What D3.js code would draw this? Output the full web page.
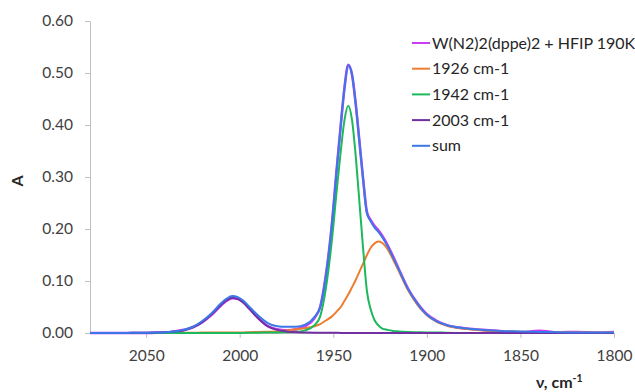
<!DOCTYPE html>
<html>
<head>
<meta charset="utf-8">
<script src="https://cdn.jsdelivr.net/npm/d3@7"></script>
<style>
  html, body { margin: 0; padding: 0; background: #ffffff; }
  svg { display: block; }
  text { font-family: Lato, "Open Sans", sans-serif; }
</style>
</head>
<body>
<svg id="chart" width="635" height="392"></svg>
<script>
// ---- data ----
const wavenumbers = [2080, 2070, 2060, 2050, 2045, 2040, 2035, 2030, 2025, 2020, 2015, 2010, 2007, 2004, 2001, 1998, 1995, 1990, 1985, 1980, 1975, 1970, 1965, 1960, 1957, 1954, 1951, 1948, 1946, 1944, 1942, 1940, 1938, 1936, 1934, 1932, 1930, 1928, 1926, 1924, 1921, 1918, 1915, 1910, 1905, 1900, 1895, 1890, 1880, 1870, 1860, 1850, 1845, 1840, 1835, 1830, 1825, 1820, 1810, 1800];

const measured = [0.000, 0.000, 0.000, 0.000, 0.0005, 0.001, 0.003, 0.006, 0.011, 0.021, 0.035, 0.053, 0.062, 0.067, 0.066, 0.059, 0.048, 0.028, 0.013, 0.007, 0.005, 0.007, 0.013, 0.029, 0.050, 0.110, 0.200, 0.322, 0.400, 0.472, 0.516, 0.497, 0.440, 0.367, 0.294, 0.232, 0.217, 0.206, 0.198, 0.188, 0.169, 0.147, 0.123, 0.085, 0.057, 0.036, 0.024, 0.016, 0.009, 0.006, 0.003, 0.001, 0.003, 0.004, 0.003, 0.0005, 0.002, 0.002, 0.001, 0.002];

const band1926 = [0.000, 0.000, 0.000, 0.000, 0.000, 0.000, 0.000, 0.0005, 0.0005, 0.0008, 0.0008, 0.001, 0.001, 0.001, 0.001, 0.0012, 0.0015, 0.002, 0.0025, 0.003, 0.005, 0.007, 0.009, 0.013, 0.017, 0.024, 0.031, 0.042, 0.050, 0.062, 0.074, 0.088, 0.102, 0.118, 0.134, 0.150, 0.164, 0.172, 0.176, 0.1735, 0.161, 0.141, 0.119, 0.082, 0.054, 0.034, 0.022, 0.015, 0.008, 0.005, 0.0035, 0.0025, 0.002, 0.002, 0.0015, 0.0015, 0.001, 0.001, 0.001, 0.001];

const band1942 = [0.000, 0.000, 0.000, 0.000, 0.000, 0.000, 0.000, 0.000, 0.000, 0.000, 0.000, 0.000, 0.000, 0.000, 0.000, 0.000, 0.0005, 0.0005, 0.001, 0.001, 0.0015, 0.002, 0.005, 0.015, 0.032, 0.085, 0.170, 0.280, 0.350, 0.410, 0.437, 0.410, 0.340, 0.250, 0.160, 0.080, 0.045, 0.025, 0.015, 0.009, 0.006, 0.004, 0.003, 0.002, 0.0015, 0.001, 0.001, 0.0005, 0.000, 0.000, 0.000, 0.000, 0.000, 0.000, 0.000, 0.000, 0.000, 0.000, 0.000, 0.000];

const band2003 = [0.000, 0.000, 0.0002, 0.0005, 0.0008, 0.0015, 0.003, 0.005, 0.011, 0.021, 0.036, 0.054, 0.063, 0.068, 0.065, 0.058, 0.047, 0.028, 0.013, 0.006, 0.003, 0.0015, 0.001, 0.0006, 0.0005, 0.0004, 0.0004, 0.0003, 0.0002, 0.0002, 0.0002, 0.0001, 0.0001, 0.000, 0.000, 0.000, 0.000, 0.000, 0.000, 0.000, 0.000, 0.000, 0.000, 0.000, 0.000, 0.000, 0.000, 0.000, 0.000, 0.000, 0.000, 0.000, 0.000, 0.000, 0.000, 0.000, 0.000, 0.000, 0.000, 0.000];

const sumFit = [0.000, 0.000, 0.0002, 0.0005, 0.0008, 0.0015, 0.003, 0.006, 0.012, 0.023, 0.038, 0.057, 0.066, 0.071, 0.069, 0.062, 0.051, 0.033, 0.019, 0.013, 0.012, 0.012, 0.016, 0.031, 0.050, 0.109, 0.200, 0.322, 0.400, 0.472, 0.515, 0.497, 0.440, 0.367, 0.294, 0.230, 0.215, 0.203, 0.195, 0.185, 0.167, 0.145, 0.122, 0.084, 0.056, 0.035, 0.023, 0.016, 0.009, 0.006, 0.004, 0.003, 0.0025, 0.002, 0.002, 0.0015, 0.001, 0.001, 0.001, 0.001];

const seriesNames = ["W(N2)2(dppe)2 + HFIP 190K", "1926 cm-1", "1942 cm-1", "2003 cm-1", "sum"];
const seriesColors = ["#cc3cf5", "#ed7d31", "#1cb85c", "#7030a0", "#3b78e7"];
const seriesWidths = [2.6, 2, 2, 2, 2];
const seriesValues = [measured, band1926, band1942, band2003, sumFit];

const xTicks = [2050, 2000, 1950, 1900, 1850, 1800];
const yTicks = [0.0, 0.1, 0.2, 0.3, 0.4, 0.5, 0.6];
const xDomain = [2080, 1800];
const yDomain = [0, 0.6];

// ---- drawing ----
const svg = d3.select("#chart");
const margin = {left: 90, right: 21, top: 21, bottom: 59};
const W = 635, H = 392;

const x = d3.scaleLinear().domain(xDomain).range([margin.left, W - margin.right]);
const y = d3.scaleLinear().domain(yDomain).range([H - margin.bottom, margin.top]);

const axisColor = "#bfbfbf";
const labelColor = "#404040";

// y axis
const yAxis = svg.append("g")
  .attr("transform", `translate(${margin.left},0)`)
  .call(d3.axisLeft(y).tickValues(yTicks).tickFormat(d3.format(".2f")).tickSize(5).tickSizeOuter(0).tickPadding(12));
yAxis.select(".domain").attr("stroke", axisColor).attr("stroke-width", 1);
yAxis.selectAll(".tick line").attr("stroke", axisColor);
yAxis.selectAll(".tick text").attr("fill", labelColor).style("font-size", "15.5px").style("font-family", "Lato, sans-serif");

// x axis
const xAxis = svg.append("g")
  .attr("transform", `translate(0,${y(0)})`)
  .call(d3.axisBottom(x).tickValues(xTicks).tickFormat(d3.format("d")).tickSize(5).tickSizeOuter(0).tickPadding(12));
xAxis.select(".domain").attr("stroke", axisColor).attr("stroke-width", 1);
xAxis.selectAll(".tick line").attr("stroke", axisColor);
xAxis.selectAll(".tick text").attr("fill", labelColor).style("font-size", "15.5px").style("font-family", "Lato, sans-serif");

// lines
const line = d3.line()
  .x((d, i) => x(wavenumbers[i]))
  .y(d => y(d))
  .curve(d3.curveMonotoneX);

const plot = svg.append("g");
seriesValues.forEach((vals, k) => {
  plot.append("path")
    .datum(vals)
    .attr("fill", "none")
    .attr("stroke", seriesColors[k])
    .attr("stroke-width", seriesWidths[k])
    .attr("stroke-linejoin", "round")
    .attr("d", line);
});

// legend
const legend = svg.append("g");
seriesNames.forEach((name, k) => {
  const cy = 43 + k * 25.7;
  legend.append("line")
    .attr("x1", 412).attr("x2", 430)
    .attr("y1", cy).attr("y2", cy)
    .attr("stroke", seriesColors[k]).attr("stroke-width", 2);
  legend.append("text")
    .attr("x", 432).attr("y", cy + 5.5)
    .attr("fill", "#262626")
    .style("font-size", "16px")
    .text(name);
});

// axis titles
svg.append("text")
  .attr("transform", `translate(23,181) rotate(-90)`)
  .attr("text-anchor", "middle")
  .style("font-size", "16px").style("font-weight", "bold")
  .attr("fill", "#262626")
  .text("A");

const xt = svg.append("text")
  .attr("x", 536).attr("y", 388)
  .style("font-size", "16px").style("font-weight", "bold")
  .attr("fill", "#262626");
xt.append("tspan").text("ν, cm");
xt.append("tspan").attr("dy", -6).style("font-size", "10.5px").text("-1");
</script>
</body>
</html>
